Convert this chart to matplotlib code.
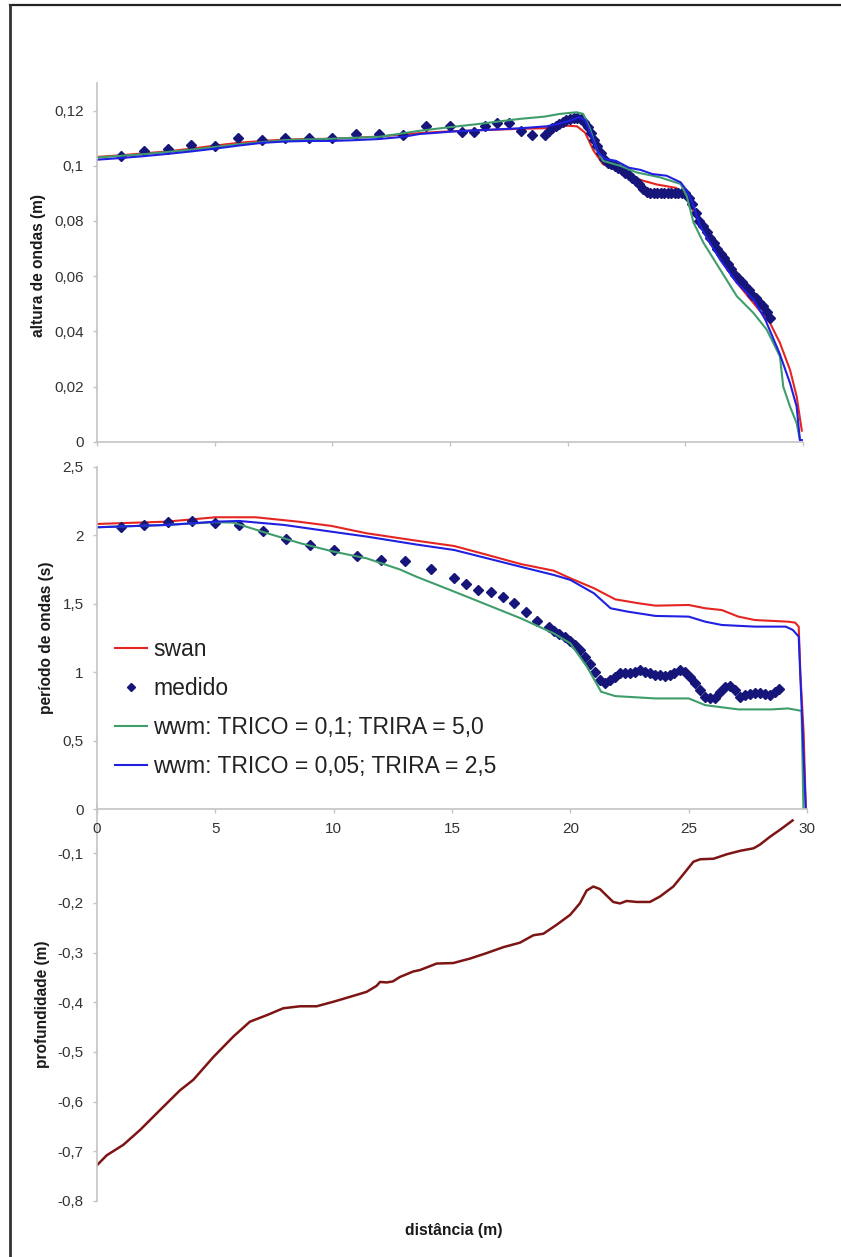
import matplotlib
matplotlib.use("Agg")
import matplotlib.pyplot as plt
from matplotlib.lines import Line2D

plt.rcParams['font.family'] = ['Liberation Sans', 'DejaVu Sans']

# ---------------- data ----------------
# Panel 1: wave height (m)
top_swan_x = [0, 1, 2, 3, 4, 5, 6, 7, 8, 9, 10, 11, 12, 13, 14, 15, 16, 17, 18, 19,
              19.5, 20, 20.4, 20.74, 21.1, 21.5, 22.0, 22.6, 23.2, 23.8, 24.6, 25.06, 25.3,
              25.77, 26.48, 27.19, 27.89, 28.6, 29.02, 29.45, 29.73, 29.95]
top_swan = [0.1032, 0.1038, 0.1045, 0.1052, 0.1062, 0.1073, 0.1083, 0.1090, 0.1095, 0.1097,
            0.1098, 0.1102, 0.1106, 0.1114, 0.1120, 0.1125, 0.1128, 0.1131, 0.1134, 0.1136,
            0.1140, 0.1145, 0.1143, 0.1120, 0.1055, 0.1006, 0.0988, 0.0964, 0.0946, 0.0932,
            0.0920, 0.0890, 0.0844, 0.0770, 0.0661, 0.0576, 0.0503, 0.0430, 0.0358, 0.0260,
            0.0164, 0.0040]

top_wwm2_x = [0, 1, 2, 3, 4, 5, 6, 7, 8, 9, 10, 11, 12, 13, 13.7, 15.1, 16.5, 18, 19.1, 19.6,
              20.1, 20.5, 20.75, 21.0, 21.3, 21.6, 22.05, 22.6, 23.1, 23.6, 24.2, 24.8, 25.06,
              25.3, 25.63, 26.05, 26.48, 27.19, 27.9, 28.4, 29.0, 29.45, 29.73, 29.87, 29.95]
top_wwm2 = [0.1022, 0.1028, 0.1035, 0.1043, 0.1052, 0.1062, 0.1073, 0.1083, 0.1088, 0.1090,
            0.1090, 0.1093, 0.1097, 0.1105, 0.1115, 0.1124, 0.1130, 0.1136, 0.1143, 0.1152,
            0.1164, 0.1176, 0.1165, 0.1110, 0.1049, 0.1024, 0.1018, 0.0993, 0.0985, 0.0970,
            0.0964, 0.0940, 0.0910, 0.0867, 0.0782, 0.0720, 0.0660, 0.0576, 0.0515, 0.0442,
            0.0321, 0.0212, 0.0127, 0.0006, 0.0006]

top_wwm1_x = [0, 2, 4, 6, 8, 10, 12, 13.72, 15, 16.27, 17.97, 19.0, 19.67, 20.38, 20.66, 20.95,
              21.23, 21.5, 22.23, 22.93, 23.93, 24.8, 25.06, 25.35, 25.77, 26.48, 27.19, 27.89,
              28.46, 29.02, 29.16, 29.45, 29.73, 29.87]
top_wwm1 = [0.1030, 0.1042, 0.1058, 0.1078, 0.1093, 0.1098, 0.1105, 0.1127, 0.1140, 0.1152,
            0.1170, 0.1178, 0.1188, 0.1194, 0.1188, 0.1133, 0.1060, 0.1018, 0.1000, 0.0976,
            0.0958, 0.0934, 0.0890, 0.0794, 0.0721, 0.0624, 0.0527, 0.0467, 0.0406, 0.0309,
            0.0200, 0.0127, 0.0067, 0.0006]

top_med_x = [1.0, 2.0, 3.0, 4.0, 5.0, 6.0, 7.0, 8.0, 9.0, 10.0, 11.0, 12.0, 13.0, 14.0, 15.0,
             15.5, 16.0, 16.5, 17.0, 17.5, 18.0, 18.5, 19.04, 19.2, 19.35, 19.5, 19.65, 19.8,
             19.95, 20.1, 20.25, 20.4, 20.55, 20.7, 20.85, 21.0, 21.1, 21.25, 21.4, 21.55,
             21.7, 21.85, 22.0, 22.15, 22.3, 22.45, 22.6, 22.75, 22.9, 23.05, 23.2, 23.35,
             23.5, 23.65, 23.8, 23.95, 24.1, 24.25, 24.4, 24.55, 24.7, 24.85, 25.0, 25.15,
             25.3, 25.45, 25.6, 25.75, 25.9, 26.05, 26.2, 26.35, 26.5, 26.65, 26.8, 26.95,
             27.1, 27.25, 27.4, 27.55, 27.7, 27.85, 28.0, 28.15, 28.3, 28.45, 28.6]
top_med = [0.1034, 0.1052, 0.1061, 0.1074, 0.1073, 0.1101, 0.1092, 0.1101, 0.1101, 0.1101,
           0.1115, 0.1115, 0.1113, 0.1145, 0.1145, 0.1121, 0.1121, 0.1145, 0.1155, 0.1155,
           0.1127, 0.1113, 0.1113, 0.1127, 0.1138, 0.1145, 0.1150, 0.1158, 0.1165, 0.1170,
           0.1172, 0.1172, 0.1168, 0.1158, 0.1140, 0.1118, 0.1095, 0.1070, 0.1045, 0.1024,
           0.1010, 0.1005, 0.1000, 0.0993, 0.0985, 0.0975, 0.0965, 0.0955, 0.0945, 0.0935,
           0.0915, 0.0905, 0.0903, 0.0903, 0.0903, 0.0903, 0.0903, 0.0903, 0.0903, 0.0903,
           0.0903, 0.0903, 0.0903, 0.0885, 0.0860, 0.0830, 0.0800, 0.0780, 0.0760, 0.0740,
           0.0720, 0.0700, 0.0680, 0.0665, 0.0645, 0.0625, 0.0605, 0.0595, 0.0580, 0.0565,
           0.0550, 0.0530, 0.0520, 0.0505, 0.0490, 0.0470, 0.0450]

# Panel 2: wave period (s)
mid_swan_x = [0, 1, 2.95, 5.0, 6.7, 8.5, 9.9, 11.4, 13.5, 15.1, 16.5, 17.9, 19.3, 20.0, 21.0,
              21.9, 22.9, 23.6, 25.0, 25.7, 26.4, 27.1, 27.8, 29.22, 29.5, 29.65, 29.72, 29.86,
              29.95]
mid_swan = [2.082, 2.088, 2.099, 2.131, 2.131, 2.099, 2.068, 2.014, 1.960, 1.921, 1.856,
            1.790, 1.741, 1.686, 1.613, 1.532, 1.503, 1.486, 1.491, 1.467, 1.454, 1.406,
            1.381, 1.369, 1.362, 1.333, 0.99, 0.55, 0.0]

mid_wwm2_x = [0, 2.95, 5.0, 6.0, 7.9, 9.9, 11.4, 13.5, 15.1, 16.5, 17.9, 19.3, 20.0, 21.0,
              21.7, 22.4, 23.6, 25.0, 25.7, 26.4, 27.8, 29.1, 29.4, 29.65, 29.8, 29.95, 30.05]
mid_wwm2 = [2.058, 2.075, 2.099, 2.104, 2.075, 2.026, 1.990, 1.932, 1.892, 1.831, 1.770,
            1.710, 1.674, 1.576, 1.467, 1.443, 1.411, 1.406, 1.369, 1.345, 1.333, 1.333,
            1.309, 1.260, 0.63, 0.0, 0.0]

mid_wwm1_x = [0, 2.95, 5.0, 5.76, 7.2, 8.6, 10.0, 11.4, 12.8, 13.5, 15.1, 16.5, 17.9, 19.3,
              20.0, 20.7, 21.3, 21.9, 23.6, 25.0, 25.7, 27.1, 28.5, 29.2, 29.77, 29.85]
mid_wwm1 = [2.058, 2.075, 2.095, 2.092, 2.014, 1.941, 1.880, 1.831, 1.750, 1.697, 1.588,
            1.491, 1.394, 1.284, 1.211, 1.041, 0.858, 0.826, 0.809, 0.809, 0.760, 0.729,
            0.729, 0.736, 0.718, 0.0]

mid_med_x = [1.0, 2.0, 3.0, 4.0, 5.0, 6.0, 7.0, 8.0, 9.0, 10.0, 11.0, 12.0, 13.0, 14.1, 15.1,
             15.6, 16.1, 16.63, 17.15, 17.6, 18.14, 18.6, 19.1, 19.3, 19.5, 19.76, 19.97,
             20.2, 20.4, 20.6, 20.82, 21.03, 21.25, 21.45, 21.67, 21.88, 22.1, 22.3, 22.5,
             22.73, 22.94, 23.15, 23.36, 23.57, 23.78, 24.0, 24.2, 24.4, 24.63, 24.84, 25.05,
             25.27, 25.48, 25.69, 25.9, 26.12, 26.33, 26.54, 26.75, 26.96, 27.18, 27.4, 27.6,
             27.8, 28.0, 28.23, 28.44, 28.65, 28.8]
mid_med = [2.058, 2.075, 2.099, 2.107, 2.092, 2.075, 2.034, 1.971, 1.927, 1.890, 1.849, 1.820,
           1.810, 1.751, 1.690, 1.644, 1.600, 1.588, 1.547, 1.503, 1.439, 1.377, 1.328, 1.304,
           1.279, 1.255, 1.228, 1.199, 1.162, 1.114, 1.060, 1.004, 0.943, 0.918, 0.943, 0.967,
           0.991, 0.991, 0.996, 1.004, 1.016, 1.004, 0.991, 0.979, 0.979, 0.972, 0.979, 0.991,
           1.016, 1.004, 0.967, 0.918, 0.870, 0.821, 0.809, 0.809, 0.858, 0.894, 0.899, 0.870,
           0.821, 0.833, 0.845, 0.850, 0.852, 0.845, 0.833, 0.858, 0.875]

# Panel 3: depth (m)
depth_x = [0, 0.41, 1.11, 1.82, 2.66, 3.51, 4.07, 4.92, 5.76, 6.46, 7.17, 7.87, 8.58, 9.28,
           9.98, 10.69, 11.39, 11.81, 11.96, 12.24, 12.5, 12.8, 13.36, 13.65, 14.35, 15.05,
           15.76, 16.46, 17.17, 17.87, 18.44, 18.86, 19.42, 19.99, 20.4, 20.69, 20.97, 21.25,
           21.81, 22.1, 22.38, 22.8, 23.36, 23.79, 24.35, 24.78, 25.2, 25.49, 26.05, 26.61,
           27.18, 27.74, 28.0, 28.43, 28.85, 29.39]
depth = [-0.728, -0.708, -0.687, -0.657, -0.617, -0.577, -0.556, -0.510, -0.469, -0.439,
         -0.426, -0.412, -0.408, -0.408, -0.399, -0.389, -0.379, -0.367, -0.359, -0.360,
         -0.358, -0.349, -0.338, -0.335, -0.322, -0.321, -0.312, -0.301, -0.289, -0.280,
         -0.265, -0.262, -0.244, -0.224, -0.201, -0.175, -0.167, -0.172, -0.198, -0.201,
         -0.196, -0.198, -0.198, -0.187, -0.167, -0.142, -0.117, -0.112, -0.111, -0.102,
         -0.095, -0.090, -0.083, -0.067, -0.053, -0.034]

series_labels = ["swan", "medido", "wwm: TRICO = 0,1; TRIRA = 5,0", "wwm: TRICO = 0,05; TRIRA = 2,5"]

x_ticks = [0, 5, 10, 15, 20, 25, 30]
x_ticklabels = ["0", "5", "10", "15", "20", "25", "30"]
top_yticks = [0, 0.02, 0.04, 0.06, 0.08, 0.10, 0.12]
top_yticklabels = ["0", "0,02", "0,04", "0,06", "0,08", "0,1", "0,12"]
mid_yticks = [0, 0.5, 1.0, 1.5, 2.0, 2.5]
mid_yticklabels = ["0", "0,5", "1", "1,5", "2", "2,5"]
bot_yticks = [-0.8, -0.7, -0.6, -0.5, -0.4, -0.3, -0.2, -0.1]
bot_yticklabels = ["-0,8", "-0,7", "-0,6", "-0,5", "-0,4", "-0,3", "-0,2", "-0,1"]

# ---------------- style ----------------
C_SWAN = '#e52521'
C_MED = '#15157a'
C_WWM1 = '#3f9d6c'
C_WWM2 = '#2020e0'
C_DEPTH = '#7e1515'
SPINE = '#c4c4c4'
TICKLBL = '#333333'
LW = 1.5

W, H = 841, 1257
fig = plt.figure(figsize=(W / 100, H / 100), dpi=100)
fig.patch.set_facecolor('white')


def frac(l, t, r, b):
    return [l / W, 1 - b / H, (r - l) / W, (b - t) / H]


ax3 = fig.add_axes(frac(97, 803.6, 807, 1201))
ax1 = fig.add_axes(frac(97, 83, 803, 441.7))
ax2 = fig.add_axes(frac(97, 466.7, 807, 809.3))

for ax in (ax1, ax2, ax3):
    ax.set_facecolor('none')
    for s in ('top', 'right'):
        ax.spines[s].set_visible(False)
    for s in ('left', 'bottom'):
        ax.spines[s].set_color(SPINE)
        ax.spines[s].set_linewidth(1.2)
    ax.tick_params(direction='out', length=3, width=1, color=SPINE,
                   labelcolor=TICKLBL, labelsize=11, pad=6.5)
    ax.set_xlim(0, 30)

# Panel 1
ax1.plot(top_swan_x, top_swan, color=C_SWAN, lw=LW)
ax1.plot(top_med_x, top_med, linestyle='none', marker='D', markersize=5,
         color=C_MED)
ax1.plot(top_wwm1_x, top_wwm1, color=C_WWM1, lw=LW)
ax1.plot(top_wwm2_x, top_wwm2, color=C_WWM2, lw=LW)
ax1.set_ylim(0, 0.13)
ax1.set_yticks(top_yticks)
ax1.set_yticklabels(top_yticklabels)
ax1.set_xticks(x_ticks)
ax1.set_xticklabels([])

# Panel 2
l_swan, = ax2.plot(mid_swan_x, mid_swan, color=C_SWAN, lw=LW)
l_med, = ax2.plot(mid_med_x, mid_med, linestyle='none', marker='D', markersize=5,
                  color=C_MED)
l_w1, = ax2.plot(mid_wwm1_x, mid_wwm1, color=C_WWM1, lw=LW)
l_w2, = ax2.plot(mid_wwm2_x, mid_wwm2, color=C_WWM2, lw=LW)
ax2.set_ylim(0, 2.5)
ax2.set_yticks(mid_yticks)
ax2.set_yticklabels(mid_yticklabels)
ax2.set_xticks(x_ticks)
ax2.set_xticklabels(x_ticklabels)

leg = ax2.legend([l_swan, l_med, l_w1, l_w2], series_labels, loc='upper left',
                 bbox_to_anchor=(0.025, 0.5006), frameon=False, fontsize=16.5,
                 handlelength=1.4, handletextpad=0.27, labelspacing=0.7,
                 borderpad=0, borderaxespad=0, numpoints=1, markerscale=0.8)
for t in leg.get_texts():
    t.set_color('#222222')

# Panel 3
ax3.plot(depth_x, depth, color=C_DEPTH, lw=LW + 0.3)
ax3.set_ylim(-0.8, 0)
ax3.set_yticks(bot_yticks)
ax3.set_yticklabels(bot_yticklabels)
ax3.spines['bottom'].set_visible(False)
ax3.set_xticks([])

# Axis titles
fig.text(39 / W, 1 - 265 / H, "altura de ondas (m)", rotation=90, ha='center', va='center',
         fontweight='bold', fontsize=11.2, color='#1a1a1a')
fig.text(47 / W, 1 - 638 / H, "período de ondas (s)", rotation=90, ha='center', va='center',
         fontweight='bold', fontsize=11.2, color='#1a1a1a')
fig.text(42 / W, 1 - 1004 / H, "profundidade (m)", rotation=90, ha='center', va='center',
         fontweight='bold', fontsize=11.2, color='#1a1a1a')
fig.text(454 / W, 1 - 1230 / H, "distância (m)", ha='center', va='center',
         fontweight='bold', fontsize=11.3, color='#1a1a1a')

# Frame lines (top and left)
fig.add_artist(Line2D([9.5 / W, 1.0], [1 - 5 / H, 1 - 5 / H], transform=fig.transFigure,
                      color='#222222', lw=1.6))
fig.add_artist(Line2D([10 / W, 10 / W], [1 - 4.5 / H, 0.0], transform=fig.transFigure,
                      color='#333333', lw=2.0))

fig.savefig('out.png', dpi=100, facecolor='white')
